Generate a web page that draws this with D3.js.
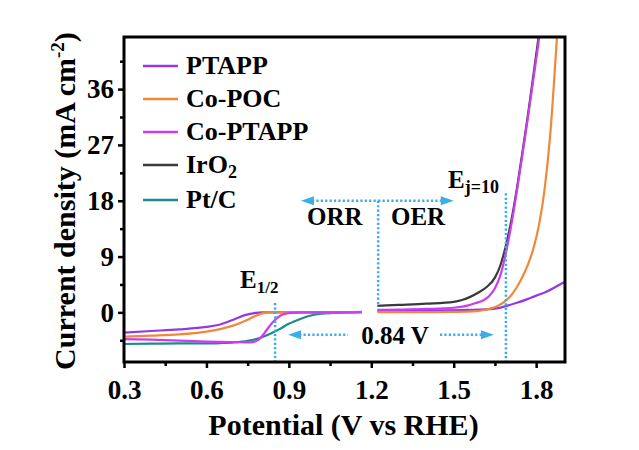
<!DOCTYPE html>
<html>
<head>
<meta charset="utf-8">
<script src="https://cdn.jsdelivr.net/npm/d3@7"></script>
<style>
  html, body { margin: 0; padding: 0; background: #fff; }
  svg { display: block; }
  text { font-family: "Liberation Serif", "Times New Roman", serif; font-weight: bold; fill: #000; }
</style>
</head>
<body>
<svg id="chart" width="639" height="450"></svg>
<script>
// Polarization curves: potential (V vs RHE) vs current density (mA cm-2)
const seriesNames = ["PTAPP", "Co-POC", "Co-PTAPP", "IrO2", "Pt/C"];
const seriesColors = ["#9438e6", "#f0883a", "#cc3cf2", "#3a3a3a", "#1f8a8a"];

// ORR branch (cathodic scan)
const ptappOrr = [[0.30,-3.25],[0.40,-3.0],[0.50,-2.75],[0.60,-2.35],[0.65,-1.95],[0.70,-1.15],[0.74,-0.45],[0.78,-0.08],[0.80,0],[0.90,0],[1.00,0],[1.10,0.02],[1.165,0.05]];
const copocOrr = [[0.30,-3.9],[0.40,-3.75],[0.50,-3.55],[0.60,-3.1],[0.65,-2.7],[0.70,-2.1],[0.74,-1.4],[0.77,-0.75],[0.80,-0.2],[0.83,0],[0.90,0],[1.00,0],[1.10,0],[1.165,0.02]];
const coptappOrr = [[0.30,-4.3],[0.40,-4.4],[0.50,-4.55],[0.60,-4.7],[0.70,-4.8],[0.76,-4.85],[0.79,-4.4],[0.81,-3.4],[0.83,-2.2],[0.85,-1.2],[0.87,-0.5],[0.90,-0.12],[0.95,0],[1.05,0],[1.165,0.02]];
const ptcOrr = [[0.30,-5.1],[0.40,-5.05],[0.50,-5.0],[0.60,-5.0],[0.65,-4.95],[0.70,-4.85],[0.75,-4.6],[0.80,-4.05],[0.84,-3.3],[0.87,-2.6],[0.90,-1.85],[0.94,-1.1],[0.98,-0.5],[1.02,-0.22],[1.06,-0.1],[1.12,0],[1.165,0.08]];

// OER branch (anodic scan)
const ptappOer = [[1.222,0.24],[1.40,0.3],[1.55,0.4],[1.644,0.55],[1.693,1.05],[1.73,1.55],[1.766,2.1],[1.80,2.7],[1.839,3.35],[1.87,4.1],[1.905,4.95]];
const copocOer = [[1.222,0.03],[1.40,0.05],[1.50,0.08],[1.572,0.15],[1.60,0.3],[1.632,0.6],[1.66,1.05],[1.69,1.9],[1.71,2.8],[1.73,4.1],[1.75,5.7],[1.77,7.7],[1.79,10.3],[1.81,14.0],[1.83,19.6],[1.85,28.0],[1.876,44.6]];
const coptappOer = [[1.222,0.4],[1.30,0.45],[1.40,0.55],[1.50,0.75],[1.55,1.1],[1.58,1.5],[1.61,2.0],[1.63,2.7],[1.65,3.9],[1.67,6.0],[1.69,9.6],[1.71,14.2],[1.73,19.6],[1.75,25.4],[1.77,31.4],[1.79,37.6],[1.812,44.6]];
const iro2Oer = [[1.222,1.05],[1.30,1.2],[1.40,1.4],[1.50,1.7],[1.53,2.0],[1.56,2.5],[1.59,3.2],[1.62,4.1],[1.65,5.6],[1.67,7.6],[1.69,10.8],[1.71,14.9],[1.73,20.0],[1.75,25.8],[1.77,31.8],[1.79,38.2],[1.81,44.8]];

const xTicks = [0.3, 0.6, 0.9, 1.2, 1.5, 1.8];
const xMinorTicks = [0.45, 0.75, 1.05, 1.35, 1.65];
const yTicks = [0, 9, 18, 27, 36];
const yMinorTicks = [-4.5, 4.5, 13.5, 22.5, 31.5, 40.5];

const svg = d3.select("#chart");
const L = 124, R = 565, T = 37, B = 362;

const x = d3.scaleLinear().domain([0.3, 1.905]).range([L, R]);
const y = d3.scaleLinear().domain([-8, 44.4]).range([B, T]);

svg.append("defs").append("clipPath").attr("id", "plotClip")
  .append("rect").attr("x", L).attr("y", T).attr("width", R - L).attr("height", B - T);

// Axes
const xAxis = svg.append("g").attr("transform", `translate(0,${B})`)
  .call(d3.axisBottom(x).tickValues(xTicks).tickSize(6).tickPadding(12).tickFormat(d3.format(".1f")));
const xMinor = svg.append("g").attr("transform", `translate(0,${B})`)
  .call(d3.axisBottom(x).tickValues(xMinorTicks).tickSize(4).tickFormat(""));
const yAxis = svg.append("g").attr("transform", `translate(${L},0)`)
  .call(d3.axisLeft(y).tickValues(yTicks).tickSize(6).tickPadding(4));
const yMinor = svg.append("g").attr("transform", `translate(${L},0)`)
  .call(d3.axisLeft(y).tickValues(yMinorTicks).tickSize(4).tickFormat(""));

[xAxis, xMinor, yAxis, yMinor].forEach(g => {
  g.select(".domain").remove();
  g.selectAll(".tick line").attr("stroke", "#000").attr("stroke-width", 2.5);
  g.selectAll(".tick text").attr("font-size", 27).attr("font-family", "Liberation Serif, serif")
    .attr("font-weight", "bold").attr("fill", "#000");
});

// Curves
const line = d3.line().x(d => x(d[0])).y(d => y(d[1])).curve(d3.curveMonotoneX);
const plot = svg.append("g").attr("clip-path", "url(#plotClip)");
const curves = [
  [ptcOrr, 4], [ptappOrr, 0], [copocOrr, 1], [coptappOrr, 2],
  [ptappOer, 0], [copocOer, 1], [iro2Oer, 3], [coptappOer, 2]
];
curves.forEach(([data, i]) => {
  plot.append("path").attr("d", line(data)).attr("fill", "none")
    .attr("stroke", seriesColors[i]).attr("stroke-width", 2.2);
});

// Annotations
const blue = "#3aaee6";
const dotted = (x1, y1, x2, y2) => svg.append("line")
  .attr("x1", x1).attr("y1", y1).attr("x2", x2).attr("y2", y2)
  .attr("stroke", blue).attr("stroke-width", 2.5).attr("stroke-dasharray", "2.2,2.2");
const arrowHead = (tipX, tipY, dir) => svg.append("path")
  .attr("d", `M${tipX},${tipY} L${tipX - dir * 13},${tipY - 4.5} L${tipX - dir * 13},${tipY + 4.5} Z`)
  .attr("fill", blue);

// E1/2 marker
dotted(x(0.85), y(1.5), x(0.85), B);
const e12 = svg.append("text").attr("x", 240).attr("y", 288).attr("font-size", 25);
e12.append("tspan").text("E");
e12.append("tspan").attr("font-size", 17).attr("dy", 5).text("1/2");

// Ej=10 marker
dotted(x(1.69), y(19.2), x(1.69), B);
const ej = svg.append("text").attr("x", 448).attr("y", 188).attr("font-size", 25);
ej.append("tspan").text("E");
ej.append("tspan").attr("font-size", 18).attr("dy", 5).text("j=10");

// ORR / OER split
const ay = y(18);
dotted(x(1.225), ay, x(1.225), y(0.9));
dotted(x(0.944) + 11, ay, x(1.225), ay);
dotted(x(1.225), ay, x(1.50) - 11, ay);
arrowHead(x(0.944), ay, -1);
arrowHead(x(1.50), ay, 1);
svg.append("text").attr("x", 307).attr("y", 225).attr("font-size", 25).text("ORR");
svg.append("text").attr("x", 391).attr("y", 225).attr("font-size", 25).text("OER");

// 0.84 V gap
const gy = y(-3.6);
dotted(x(0.85) + 24, gy, 348, gy);
dotted(440, gy, x(1.69) - 24, gy);
arrowHead(x(0.85) + 13, gy, -1);
arrowHead(x(1.69) - 12, gy, 1);
svg.append("text").attr("x", 395).attr("y", 344).attr("font-size", 25)
  .attr("text-anchor", "middle").text("0.84 V");

// Frame
svg.append("rect").attr("x", L).attr("y", T).attr("width", R - L).attr("height", B - T)
  .attr("fill", "none").attr("stroke", "#000").attr("stroke-width", 3);

// Legend
const legendY = [66, 99, 132, 165, 200];
const legend = svg.append("g");
seriesNames.forEach((name, i) => {
  legend.append("line").attr("x1", 143).attr("x2", 178).attr("y1", legendY[i]).attr("y2", legendY[i])
    .attr("stroke", seriesColors[i]).attr("stroke-width", 2.5);
  const t = legend.append("text").attr("x", 186).attr("y", legendY[i] + 8).attr("font-size", 26);
  if (name === "IrO2") {
    t.append("tspan").text("IrO");
    t.append("tspan").attr("font-size", 18).attr("dy", 5).text("2");
  } else {
    t.text(name);
  }
});

// Axis titles
svg.append("text").attr("x", (L + R) / 2 - 1).attr("y", 435).attr("font-size", 30)
  .attr("text-anchor", "middle").text("Potential (V vs RHE)");
const yt = svg.append("text").attr("transform", "translate(75,201) rotate(-90)")
  .attr("font-size", 30).attr("text-anchor", "middle");
yt.append("tspan").text("Current density (mA cm");
yt.append("tspan").attr("font-size", 19).attr("dy", -11).text("-2");
yt.append("tspan").attr("dy", 11).text(")");
</script>
</body>
</html>
